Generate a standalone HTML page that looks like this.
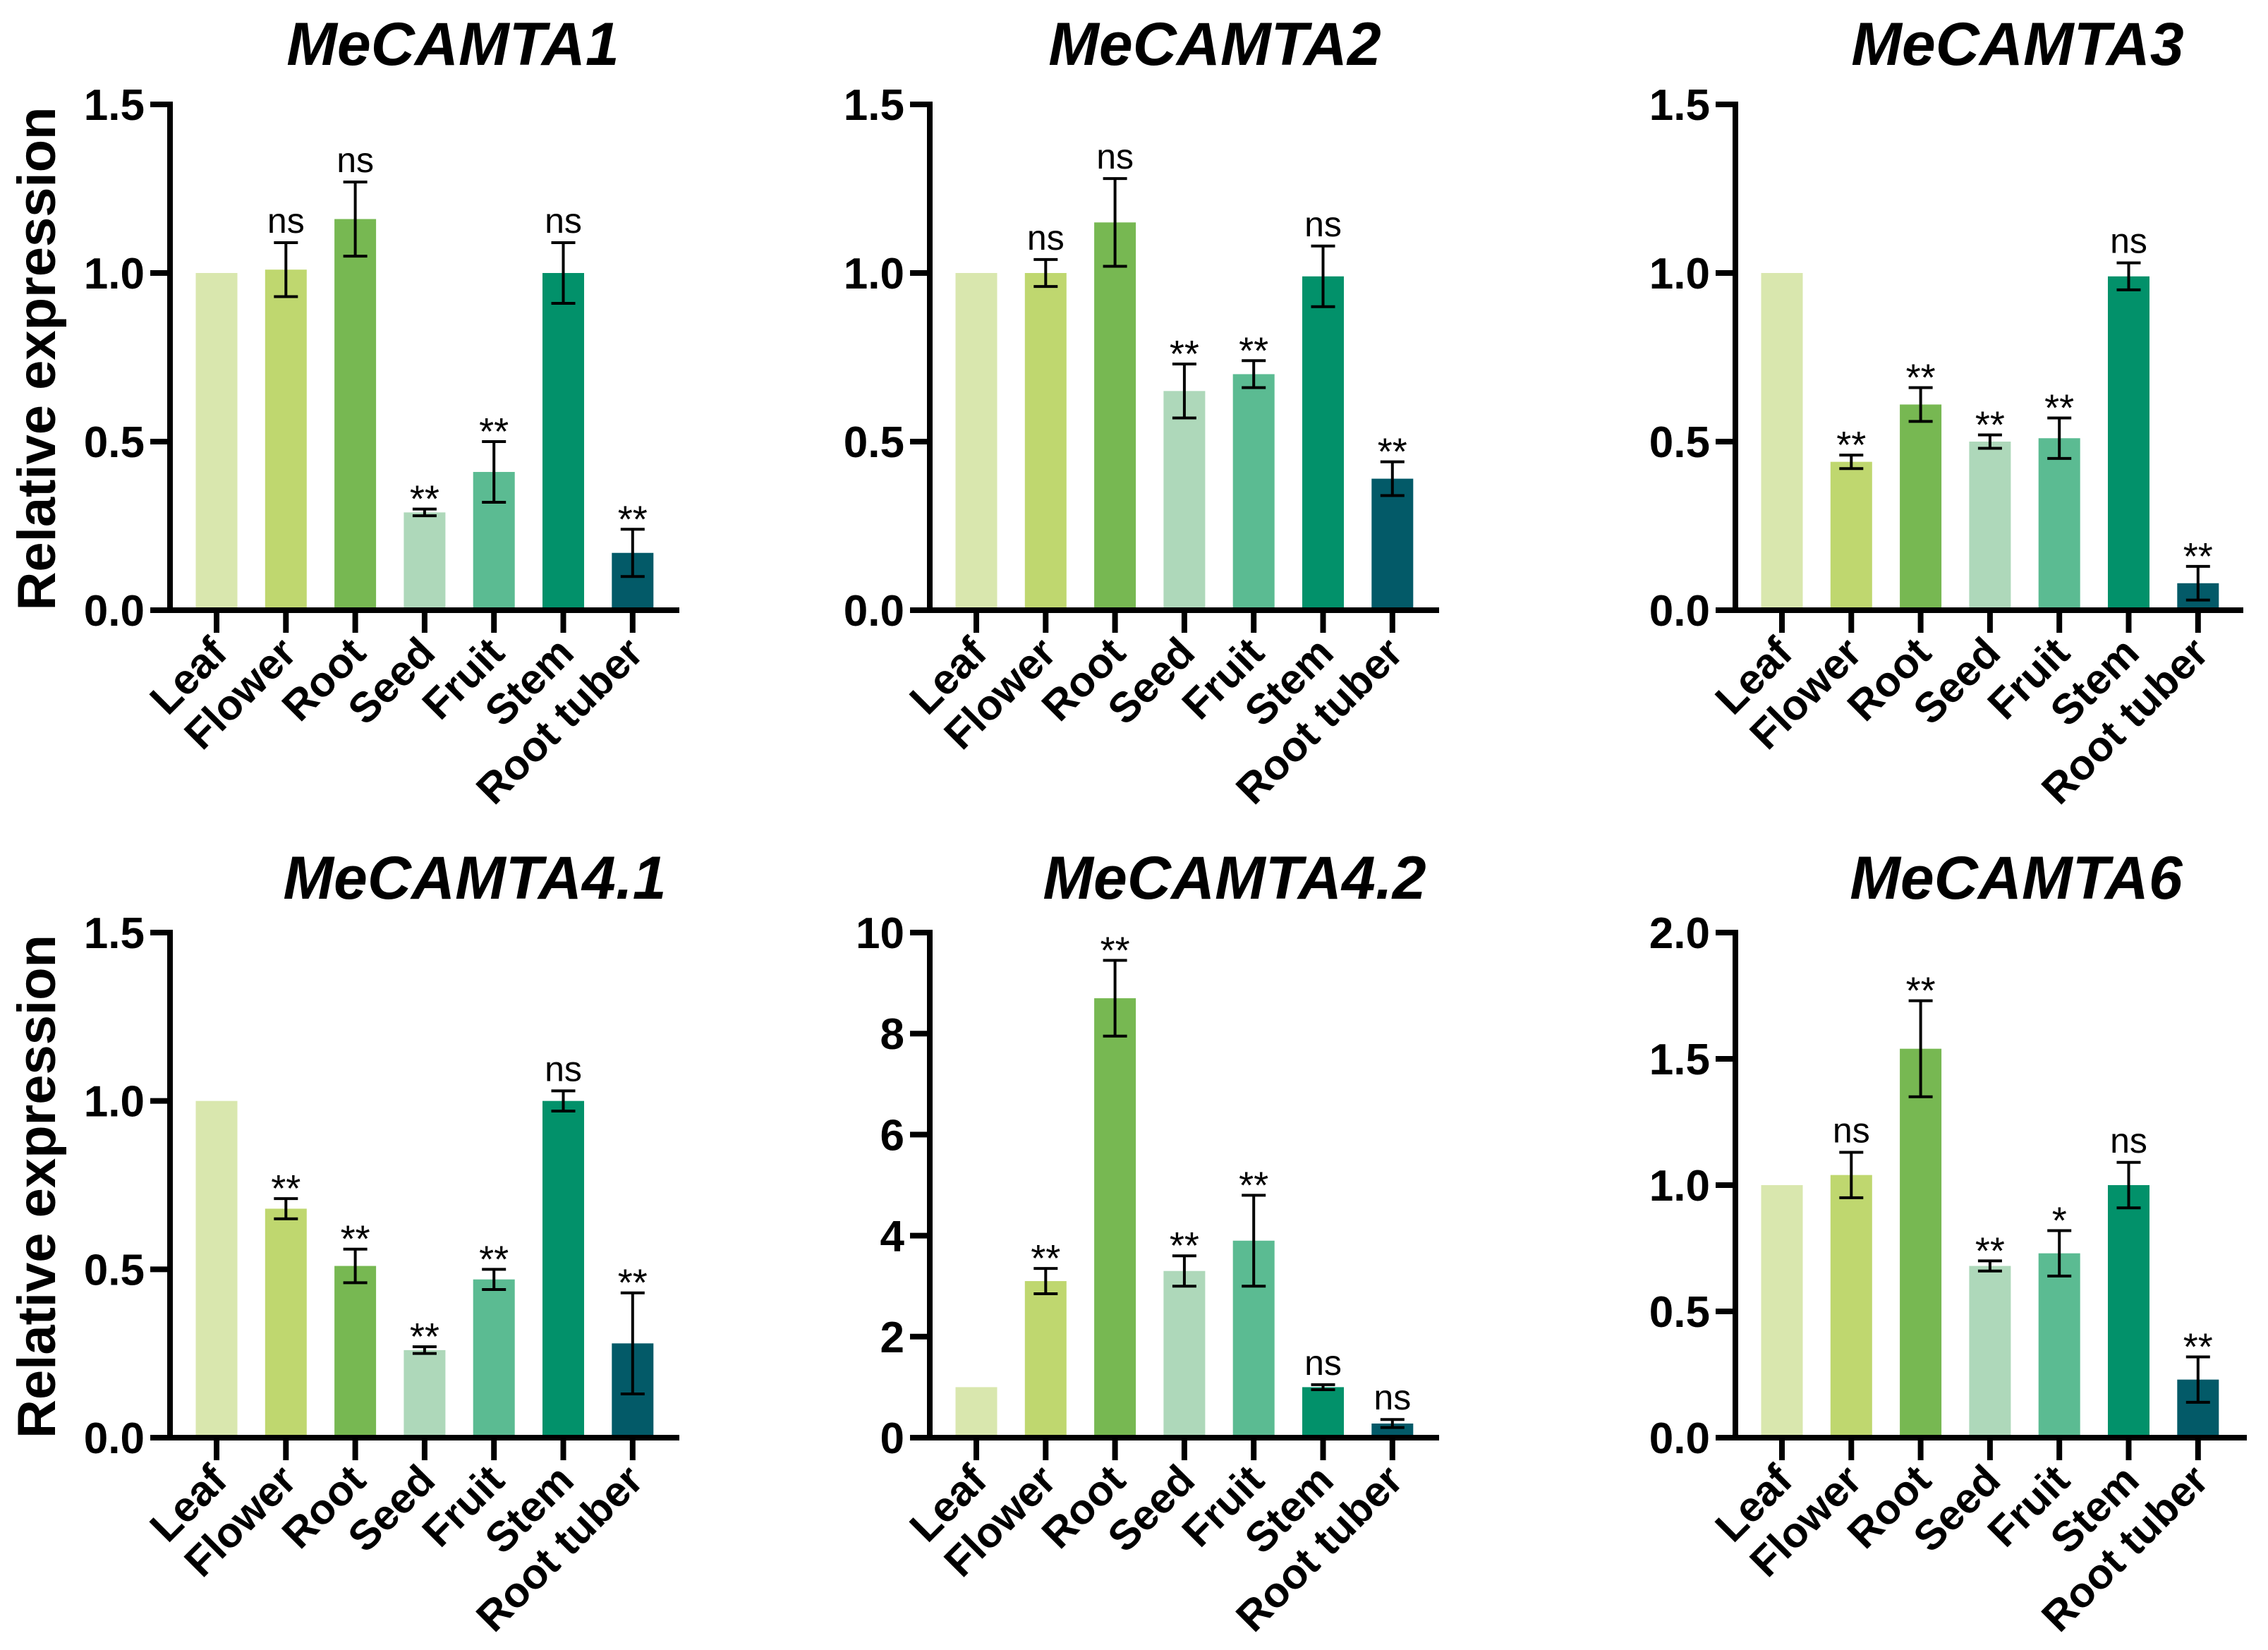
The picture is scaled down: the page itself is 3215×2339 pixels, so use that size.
<!DOCTYPE html>
<html><head><meta charset="utf-8">
<style>
html,body{margin:0;padding:0;background:#fff;}
svg{display:block;font-family:"Liberation Sans",Arial,sans-serif;}
</style></head>
<body>
<svg id="fig" width="3215" height="2339" viewBox="0 0 3215 2339" xmlns="http://www.w3.org/2000/svg"></svg>
<script>
const categories = ["Leaf","Flower","Root","Seed","Fruit","Stem","Root tuber"];
const colors = ["#d9e7ae","#bfd76f","#77b852","#aed8ba","#5bbb92","#02916a","#035a68"];
const titles = ["MeCAMTA1","MeCAMTA2","MeCAMTA3","MeCAMTA4.1","MeCAMTA4.2","MeCAMTA6"];
const values1 = [1.0,1.01,1.16,0.29,0.41,1.0,0.17];
const errors1 = [0,0.08,0.11,0.01,0.09,0.09,0.07];
const sig1 = ["","ns","ns","**","**","ns","**"];
const values2 = [1.0,1.0,1.15,0.65,0.70,0.99,0.39];
const errors2 = [0,0.04,0.13,0.08,0.04,0.09,0.05];
const sig2 = ["","ns","ns","**","**","ns","**"];
const values3 = [1.0,0.44,0.61,0.50,0.51,0.99,0.08];
const errors3 = [0,0.02,0.05,0.02,0.06,0.04,0.05];
const sig3 = ["","**","**","**","**","ns","**"];
const values4 = [1.0,0.68,0.51,0.26,0.47,1.0,0.28];
const errors4 = [0,0.03,0.05,0.01,0.03,0.03,0.15];
const sig4 = ["","**","**","**","**","ns","**"];
const values5 = [1.0,3.1,8.7,3.3,3.9,1.0,0.28];
const errors5 = [0,0.25,0.75,0.3,0.9,0.05,0.08];
const sig5 = ["","**","**","**","**","ns","ns"];
const values6 = [1.0,1.04,1.54,0.68,0.73,1.0,0.23];
const errors6 = [0,0.09,0.19,0.02,0.09,0.09,0.09];
const sig6 = ["","ns","**","**","*","ns","**"];
const ticks1 = [0,0.5,1.0,1.5];
const ticks5 = [0,2,4,6,8,10];
const ticks6 = [0,0.5,1.0,1.5,2.0];

const NS="http://www.w3.org/2000/svg";
const svg=document.getElementById('fig');
function mk(tag,attrs,parent){const e=document.createElementNS(NS,tag);for(const k in attrs)e.setAttribute(k,attrs[k]);(parent||svg).appendChild(e);return e;}

const panels=[
 {x0:241,top:148,zero:865,end:963,tx:642,ty:92,vals:values1,errs:errors1,sig:sig1,ticks:ticks1,dec:1,ylab:true},
 {x0:1318,top:148,zero:865,end:2040,tx:1722,ty:92,vals:values2,errs:errors2,sig:sig2,ticks:ticks1,dec:1,ylab:false},
 {x0:2460,top:148,zero:865,end:3180,tx:2860,ty:92,vals:values3,errs:errors3,sig:sig3,ticks:ticks1,dec:1,ylab:false},
 {x0:241,top:1322,zero:2038,end:963,tx:673,ty:1274,vals:values4,errs:errors4,sig:sig4,ticks:ticks1,dec:1,ylab:true},
 {x0:1318,top:1322,zero:2038,end:2040,tx:1750,ty:1274,vals:values5,errs:errors5,sig:sig5,ticks:ticks5,dec:0,ylab:false},
 {x0:2460,top:1322,zero:2038,end:3185,tx:2858,ty:1274,vals:values6,errs:errors6,sig:sig6,ticks:ticks6,dec:1,ylab:false}
];

panels.forEach((p,pi)=>{
  const g=mk('g',{});
  
  
  const ymax=p.ticks[p.ticks.length-1];
  const y=v=>p.zero-(v/ymax)*(p.zero-p.top);
  const xc=i=>p.x0+66+i*98.3;
  const bw=59;
  const t=mk('text',{x:p.tx,y:p.ty,'text-anchor':'middle','font-size':86,'font-weight':'bold','font-style':'italic',fill:'#000'},g);
  t.textContent=titles[pi];
  
  
  if(p.ylab){
    const cy=(p.top+p.zero)/2+2;
    const yl=mk('text',{x:78,y:cy,'text-anchor':'middle','font-size':76,'font-weight':'bold',transform:`rotate(-90 78 ${cy})`},g);
    yl.textContent='Relative expression';
    
    
  }
  p.vals.forEach((v,i)=>{
    const r=mk('rect',{x:xc(i)-bw/2,y:y(v),width:bw,height:p.zero-y(v),fill:colors[i]},g);
    
    
    const e=p.errs[i];
    let topY=y(v);
    if(e>0){
      const eg=mk('g',{stroke:'#000','stroke-width':4},g);
      
      
      mk('line',{x1:xc(i),x2:xc(i),y1:y(v+e),y2:y(v-e)},eg);
      mk('line',{x1:xc(i)-17,x2:xc(i)+17,y1:y(v+e),y2:y(v+e)},eg);
      mk('line',{x1:xc(i)-17,x2:xc(i)+17,y1:y(v-e),y2:y(v-e)},eg);
      topY=y(v+e);
    }
    if(p.sig[i]){
      const isStar=p.sig[i].indexOf('*')>=0;
      const s=mk('text',{x:xc(i),y:topY-(isStar?-4:14),'text-anchor':'middle','font-size':isStar?54:50},g);
      s.textContent=p.sig[i];
      
      
    }
    mk('line',{x1:xc(i),x2:xc(i),y1:p.zero,y2:p.zero+32,stroke:'#000','stroke-width':8},g);
    const lx=xc(i)+18, ly=p.zero+64;
    const xl=mk('text',{x:lx,y:ly,'text-anchor':'end','font-size':60,'font-weight':'bold',transform:`rotate(-45 ${lx} ${ly})`},g);
    xl.textContent=categories[i];
    
    
  });
  const ax=mk('path',{d:`M${p.x0} ${p.top-4} V${p.zero} H${p.end}`,fill:'none',stroke:'#000','stroke-width':8},g);
  
  
  p.ticks.forEach(tv=>{
    mk('line',{x1:p.x0-28,x2:p.x0,y1:y(tv),y2:y(tv),stroke:'#000','stroke-width':8},g);
    const tl=mk('text',{x:p.x0-36,y:y(tv)+22,'text-anchor':'end','font-size':62,'font-weight':'bold'},g);
    tl.textContent=tv.toFixed(p.dec);
    
    
  });
});
</script>
</body></html>
